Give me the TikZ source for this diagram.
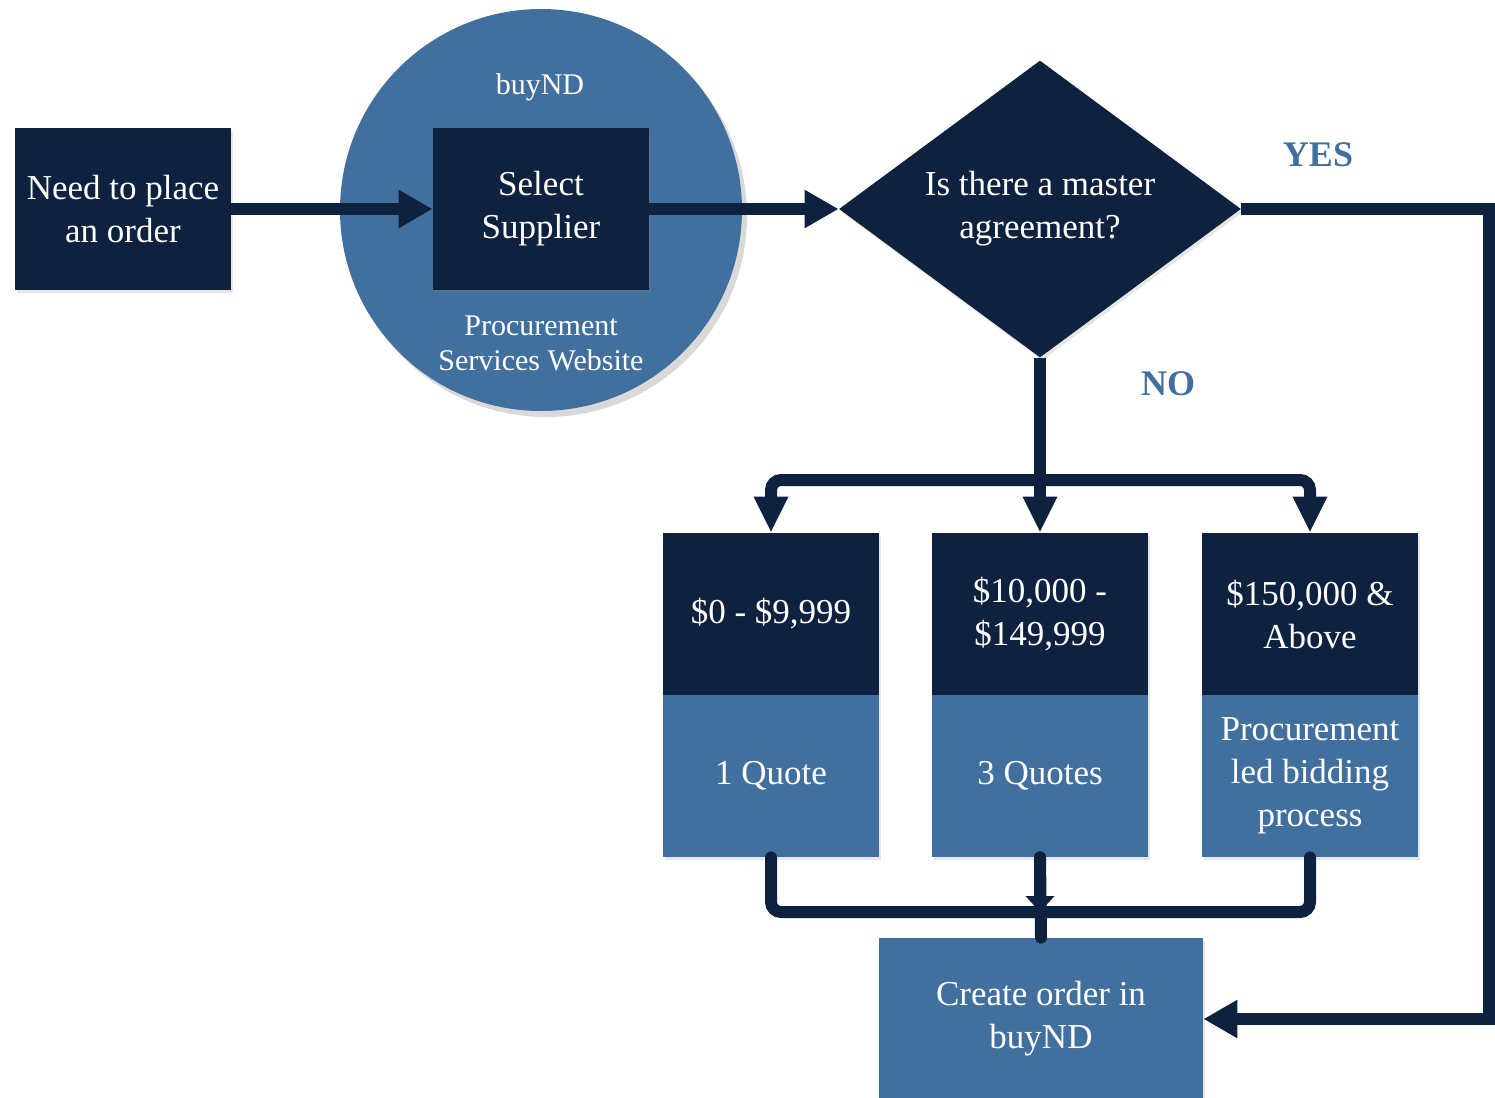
\documentclass[tikz,border=0pt]{standalone}
\usepackage{fontspec}
\setmainfont{Liberation Serif}
\usetikzlibrary{shapes.geometric,arrows.meta,shadows}
\definecolor{navy}{RGB}{14,34,64}
\definecolor{steel}{RGB}{65,112,158}

\begin{document}
\begin{tikzpicture}[x=0.5pt,y=-0.5pt,
    darkbox/.style ={rectangle, fill=navy, text=white, minimum width=108pt, minimum height=81pt,
      inner sep=0pt, align=center, font=\fontsize{17.5}{21.5}\selectfont,
      drop shadow={shadow xshift=1pt,shadow yshift=-1.5pt,opacity=.2}},
    lightbox/.style ={darkbox, fill=steel},
    flow/.style ={line width=6pt, navy, -{Triangle[width=18pt,length=17pt]}},
    branch/.style ={flow, -{Triangle[width=16pt,length=18pt]}, rounded corners=5pt},
    plain/.style ={line width=6pt, navy, line cap=round, rounded corners=5pt},
    answer/.style ={text=steel, font=\fontsize{18}{21}\selectfont\bfseries}]
   \useasboundingbox (0,0) rectangle (1495,1098);

   % buyND website circle
   \node[circle, fill=steel, minimum size=201pt, inner sep=0pt,
     drop shadow={shadow xshift=2.5pt,shadow yshift=-3pt,opacity=.3}] (site) at (541,210) {};
   \node[text=white, font=\fontsize{15}{17.5}\selectfont] (sitename) at (540,87) {buyND};
   \node[text=white, align=center, font=\fontsize{15}{17.5}\selectfont] (sitelabel) at (541,343)
     {Procurement\\Services Website};

   \node[darkbox] (need)   at (123,209)  {Need to place\\an order};
   \node[darkbox] (select) at (541,209)  {Select\\Supplier};
   \node[diamond, fill=navy, text=white, minimum width=201pt, minimum height=148.5pt, inner sep=0pt,
     aspect=1.35, align=center, font=\fontsize{17.5}{21.5}\selectfont,
     drop shadow={shadow xshift=1pt,shadow yshift=-1.5pt,opacity=.2}] (agree) at (1040,209)
     {Is there a master\\agreement?};

   \node[answer] (yes) at (1318,155) {YES};
   \node[answer] (no)  at (1168,384) {NO};

   \node[darkbox] (amt1) at (771,614)  {\$0 - \$9,999};
   \node[darkbox] (amt2) at (1040,614) {\$10,000 -\\\$149,999};
   \node[darkbox] (amt3) at (1310,614) {\$150,000 \&\\Above};
   \node[lightbox] (quote1) at (771,776)  {1 Quote};
   \node[lightbox] (quote2) at (1040,776) {3 Quotes};
   \node[lightbox] (quote3) at (1310,776) {Procurement\\led bidding\\process};

   \node[lightbox, minimum width=162pt] (create) at (1041,1019) {Create order in\\buyND};

   \coordinate (yescorner) at (1489,209);
   \coordinate (split) at (1040,480);
   \coordinate (merge) at (1040,912);

   \draw[flow] (need) -- (select);
   \draw[flow] (select) -- (agree);
   \draw[flow] (agree.east) -- (yescorner) |- (create.east);
   \draw[branch] (agree.south) -- (amt2.north);
   \draw[branch] (split) -| (amt1.north);
   \draw[branch] (split) -| (amt3.north);
   \draw[plain] (quote1.south) |- (merge) -| (quote3.south);
   \draw[plain] (quote2.south) -- (create.north);
   \draw[plain, -{Triangle[width=14pt,length=8pt]}] (quote2.south) -- (merge);
\end{tikzpicture}
\end{document}
